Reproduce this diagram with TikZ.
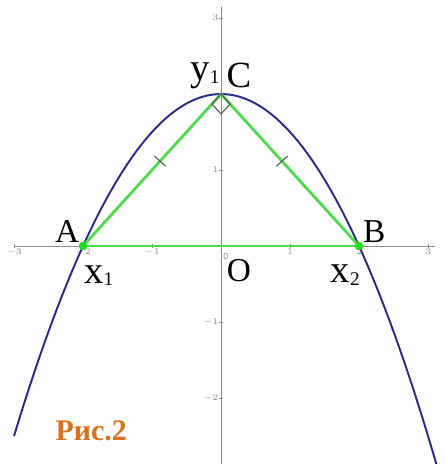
\documentclass[tikz,border=0pt]{standalone}
\usepackage{fontspec}
\setmainfont{Liberation Serif}
\newfontfamily\ticksf{Liberation Sans}
\usetikzlibrary{positioning,calc,decorations.markings}
\definecolor{axisgray}{HTML}{8C8C8C}
\definecolor{curveblue}{HTML}{2A2A84}
\definecolor{sidegreen}{HTML}{4FD94F}
\definecolor{dotgreen}{HTML}{22DD22}
\definecolor{markgray}{HTML}{5A6A5A}
\definecolor{captionorange}{HTML}{D9701C}
\newcommand{\sub}[1]{\raisebox{-1.5pt}{\fontsize{11}{12}\selectfont#1}}
\tikzset{
  ticklab/.style={text=axisgray,font=\ticksf\fontsize{5}{6}\selectfont,inner sep=.5pt},
  ptlab/.style={font=\fontsize{19}{21}\selectfont,inner sep=0pt},
  sidetick/.style={decoration={markings,mark=at position .56 with {\draw[markgray,line width=.7pt] (0,-.1)--(0,.1);}},postaction={decorate}}
}
\begin{document}
\begin{tikzpicture}[x=1.38cm,y=1.52cm]
  \useasboundingbox (-3.203,-2.868) rectangle (3.232,3.237);
  % axes
  \draw[axisgray,line width=.5pt] (-3.0,0)--(3.1,0);
  \draw[axisgray,line width=.5pt] (0,-2.9)--(0,3.15);
  \foreach \x in {-3,-2,-1,1,2,3}{
    \draw[axisgray,line width=.4pt] (\x,-.03)--(\x,.03);
    \node[ticklab] (tx\x) at (\x,-.08){$\x$};
  }
  \foreach \y in {-2,-1,1,3}{
    \draw[axisgray,line width=.4pt] (-.03,\y)--(.03,\y);
    \node[ticklab,left] (ty\y) at (-.02,\y){$\y$};
  }
  \node[ticklab] (t0) at (.07,-.14){0};
  % parabola
  \draw[curveblue,line width=1.1pt] plot[domain=-3.0:3.15,samples=80] (\x,{2-.5*\x*\x});
  % triangle
  \coordinate (A) at (-2,0);
  \coordinate (B) at (2,0);
  \coordinate (C) at (0,2);
  \draw[sidegreen,line width=1.6pt,sidetick] (A)--(C);
  \draw[sidegreen,line width=1.6pt,sidetick] (B)--(C);
  \draw[sidegreen,line width=1.6pt] (A)--(B);
  \draw[markgray,line width=.7pt] (C)--($(C)!.27cm!(A)$)--($(C)!.27cm!(A)+(C)!.27cm!(B)-(C)$)--($(C)!.27cm!(B)$)--cycle;
  \fill[dotgreen] (A) circle (.085cm);
  \fill[dotgreen] (B) circle (.085cm);
  % labels
  \node[ptlab] (la) at (-2.23,.19){A};
  \node[ptlab] (lb) at (2.22,.19){B};
  \node[ptlab,font=\fontsize{21}{23}\selectfont] (lc) at (.26,2.25){C};
  \node[ptlab,font=\fontsize{22}{24}\selectfont] (ly) at (-.23,2.24){y\sub{1}};
  \node[ptlab,font=\fontsize{19}{21}\selectfont] (lo) at (.26,-.32){O};
  \node[ptlab,font=\fontsize{22}{24}\selectfont] (lx1) at (-1.77,-.39){x\sub{1}};
  \node[ptlab,font=\fontsize{22}{24}\selectfont] (lx2) at (1.8,-.38){x\sub{2}};
  \node[text=captionorange,font=\bfseries\fontsize{17}{19}\selectfont] (fig) at (-1.88,-2.43){Рис.2};
\end{tikzpicture}
\end{document}
